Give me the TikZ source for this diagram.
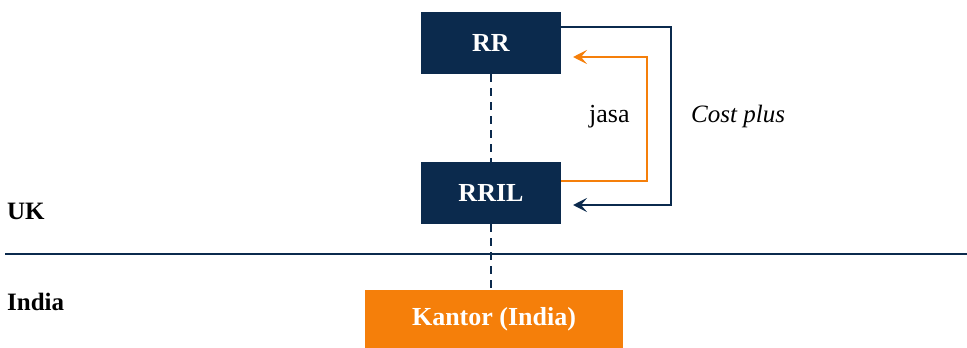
\documentclass[tikz,border=0pt]{standalone}
\usepackage{fontspec}
\setmainfont{Liberation Serif}
\usetikzlibrary{arrows.meta}
\definecolor{navy}{HTML}{0B2A4D}
\definecolor{orng}{HTML}{F57F0A}
\begin{document}
\begin{tikzpicture}[x=1pt,y=-1pt,
  darkbox/.style={fill=navy,text=white,minimum width=140pt,minimum height=62pt,inner sep=0pt,font=\fontsize{26}{30}\selectfont\bfseries},
  orbox/.style={fill=orng,text=white,minimum width=258pt,minimum height=58pt,inner sep=0pt,font=\fontsize{26}{30}\selectfont\bfseries},
  lbl/.style={anchor=west,inner sep=0pt,font=\fontsize{25}{30}\selectfont},
  dashln/.style={navy,line width=2.2pt,dash pattern=on 8pt off 6pt},
  arr/.style={line width=2.6pt,-{Stealth[length=14pt,width=14pt,inset=6pt]}}]
\useasboundingbox (0,0) rectangle (967,348);
\node[darkbox] (rr) at (491,43) {RR};
\node[darkbox] (rril) at (491,193) {RRIL};
\node[orbox] (kantor) at (494,319) {Kantor (India)};
\draw[dashln] (rr.south) -- (rril.north);
\draw[dashln] (rril.south) -- (rril.south |- kantor.north);
\coordinate (l0) at (5,254);
\coordinate (l1) at (967,254);
\draw[navy,line width=2.2pt] (l0) -- (l1);
\node[lbl,font=\fontsize{25}{30}\selectfont\bfseries] (uk) at (7,211) {UK};
\node[lbl,font=\fontsize{25}{30}\selectfont\bfseries] (india) at (7,302) {India};
\coordinate (o1) at (647,181);
\coordinate (o2) at (647,57);
\coordinate (o3) at (573,57);
\coordinate (n1) at (671,27);
\coordinate (n2) at (671,205);
\coordinate (n3) at (573,205);
\draw[arr,orng] (rril.east |- o1) -- (o1) -- (o2) -- (o3);
\draw[arr,navy] (rr.east |- n1) -- (n1) -- (n2) -- (n3);
\node[lbl,font=\fontsize{26}{30}\selectfont] (jasa) at (589,117) {jasa};
\node[lbl,font=\fontsize{25}{30}\selectfont\itshape] (cost) at (691,116) {Cost plus};
\end{tikzpicture}
\end{document}
